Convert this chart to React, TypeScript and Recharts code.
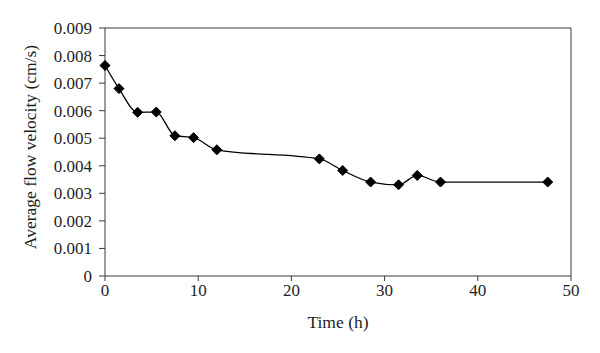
import React from 'react';
import { LineChart, Line, XAxis, YAxis, ReferenceLine } from 'recharts';

const timeHours = [0, 1.5, 3.5, 5.5, 7.5, 9.5, 12, 23, 25.5, 28.5, 31.5, 33.5, 36, 47.5];
const velocity = [0.00764, 0.0068, 0.00594, 0.00595, 0.00509, 0.00502, 0.00458, 0.00425, 0.00383, 0.00341, 0.00331, 0.00365, 0.00341, 0.00341];
const xTicks = [0, 10, 20, 30, 40, 50];
const yTicks = [0, 0.001, 0.002, 0.003, 0.004, 0.005, 0.006, 0.007, 0.008, 0.009];

const chartData = timeHours.map((t, i) => ({ time: t, v: velocity[i] }));

const font = '"Liberation Serif", "DejaVu Serif", serif';
const axisColor = '#3a3a3a';
const textColor = '#1e1e1e';

const Diamond = (props: any) => {
    const { cx, cy } = props;
    if (cx == null || cy == null) return null;
    const r = 5;
    return (
        <polygon
            points={`${cx},${cy - r} ${cx + r},${cy} ${cx},${cy + r} ${cx - r},${cy}`}
            fill="#000"
            stroke="#000"
        />
    );
};

// rotated y label, nudged a little above the plot's middle like the original
const YLabel = (props: any) => {
    const { viewBox } = props;
    const x = 30;
    const y = viewBox.y + viewBox.height / 2 - 5;
    return (
        <text
            x={x}
            y={y}
            transform={`rotate(-90, ${x}, ${y})`}
            textAnchor="middle"
            dominantBaseline="central"
            fill={textColor}
            fontSize={17.5}
            fontFamily={font}
        >
            Average flow velocity (cm/s)
        </text>
    );
};

const App = () => {
    return (
        <div style={{ position: 'absolute', left: 0, top: 0, background: '#fff' }}>
            <LineChart width={600} height={353} data={chartData} margin={{ top: 28, right: 29, left: 0, bottom: 0 }}>
                <XAxis
                    dataKey="time"
                    type="number"
                    domain={[0, 50]}
                    ticks={xTicks}
                    height={77}
                    stroke={axisColor}
                    tickSize={5}
                    tickMargin={3}
                    tick={{ fill: textColor, fontSize: 17, fontFamily: font }}
                    label={{ value: 'Time (h)', position: 'insideBottom', offset: 25, fill: textColor, fontSize: 17.5, fontFamily: font }}
                />
                <YAxis
                    type="number"
                    domain={[0, 0.009]}
                    ticks={yTicks}
                    width={105}
                    stroke={axisColor}
                    tickSize={6}
                    tickMargin={7}
                    interval={0}
                    tickFormatter={(v: number) => (v === 0 ? '0' : v.toFixed(3))}
                    tick={{ fill: textColor, fontSize: 17, fontFamily: font }}
                    label={<YLabel />}
                />
                <ReferenceLine y={0.009} stroke={axisColor} />
                <ReferenceLine x={50} stroke={axisColor} />
                <Line
                    type="monotone"
                    dataKey="v"
                    stroke="#000"
                    strokeWidth={1.3}
                    dot={<Diamond />}
                    activeDot={false}
                    isAnimationActive={false}
                />
            </LineChart>
        </div>
    );
};

export default App;
